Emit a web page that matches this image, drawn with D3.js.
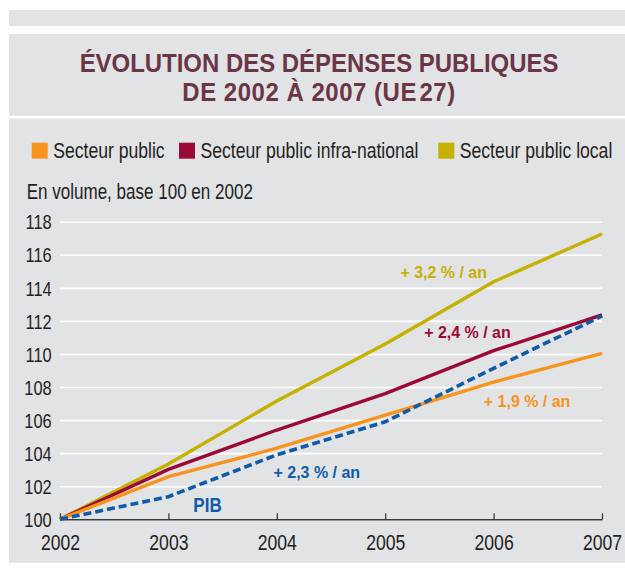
<!DOCTYPE html>
<html>
<head>
<meta charset="utf-8">
<script src="https://cdn.jsdelivr.net/npm/d3@7"></script>
<style>
    body { margin: 0; background: #fff; }
    #vis { width: 625px; height: 571px; }
    text { font-family: "Liberation Sans", Arial, sans-serif; }
</style>
</head>
<body>
<div id="vis"></div>
<script>
// data (base 100 in 2002)
var years = [2002, 2003, 2004, 2005, 2006, 2007];
var secteur_public = [100, 102.58, 104.3, 106.3, 108.3, 110.04];
var infra_national = [100, 103.02, 105.4, 107.6, 110.2, 112.36];
var public_local = [100, 103.35, 107.15, 110.6, 114.37, 117.26];
var pib = [100, 101.37, 103.9, 105.9, 109.13, 112.3];
var y_ticks = [100, 102, 104, 106, 108, 110, 112, 114, 116, 118];

var legend_labels = ['Secteur public', 'Secteur public infra-national', 'Secteur public local'];
var legend_colours = ['#f7941e', '#9b0a37', '#c4b100'];

// growth labels: text, colour, anchored at [year, value]
var notes = [
    { text: '+ 3,2 % / an', colour: '#c4b100', at: [2005.14, 114.58] },
    { text: '+ 2,4 % / an', colour: '#9b0a37', at: [2005.36, 110.95] },
    { text: '+ 1,9 % / an', colour: '#f7941e', at: [2005.91, 106.78] },
    { text: '+ 2,3 % / an', colour: '#0f5ba8', at: [2003.97, 102.48] }
];

var width = 625;
var height = 571;

var svg = d3.select('#vis')
    .append('svg')
    .attr('width', width)
    .attr('height', height);

// no condensed font installed, so squeeze the text sideways
function narrow_text(parent, x, y, s) {
    return parent.append('g')
        .attr('transform', 'translate(' + x + ',' + y + ') scale(' + s + ',1)')
        .append('text');
}

// grey panels
svg.append('rect').attr('x', 9).attr('y', 10).attr('width', 616).attr('height', 16).attr('fill', '#e2e3e5');
svg.append('rect').attr('x', 9).attr('y', 34).attr('width', 616).attr('height', 82).attr('fill', '#e2e3e5');
svg.append('rect').attr('x', 9).attr('y', 118.5).attr('width', 616).attr('height', 444.5).attr('fill', '#e2e3e5');

// title
narrow_text(svg, 319, 71.7, 0.9)
    .attr('text-anchor', 'middle')
    .attr('fill', '#6a3646')
    .style('font-weight', 'bold')
    .style('font-size', '26.6px')
    .text('ÉVOLUTION DES DÉPENSES PUBLIQUES');
narrow_text(svg, 319, 100.7, 0.9)
    .attr('text-anchor', 'middle')
    .attr('fill', '#6a3646')
    .style('font-weight', 'bold')
    .style('font-size', '26.6px')
    .style('letter-spacing', '0.6px')
    .text('DE 2002 À 2007 (UE\u200a27)');

// legend
var legend_x = [31.7, 179, 438.3];
legend_labels.forEach(function (d, i) {
    svg.append('rect')
        .attr('x', legend_x[i])
        .attr('y', 142.7)
        .attr('width', 16)
        .attr('height', 16)
        .attr('fill', legend_colours[i]);
    narrow_text(svg, legend_x[i] + 21.5, 158.3, 0.8)
        .attr('fill', '#231f20')
        .style('font-size', '22px')
        .text(d);
});

narrow_text(svg, 26.7, 199.3, 0.8)
    .attr('fill', '#231f20')
    .style('font-size', '21.3px')
    .text('En volume, base 100 en 2002');

// chart
var x_scale = d3.scaleLinear()
    .domain([2002, 2007])
    .range([60, 602]);

var y_scale = d3.scaleLinear()
    .domain([100, 118])
    .range([519.3, 221.7]);

var y_axis = d3.axisLeft(y_scale)
    .tickValues(y_ticks)
    .tickSize(-(602 - 60))
    .tickPadding(8.3)
    .tickFormat(d3.format('d'));

var x_axis = d3.axisBottom(x_scale)
    .tickValues(years)
    .tickSizeInner(-6)
    .tickSizeOuter(0)
    .tickPadding(15)
    .tickFormat(d3.format('d'));

var gy = svg.append('g')
    .attr('class', 'y axis')
    .attr('transform', 'translate(60,0)')
    .call(y_axis);
gy.select('.domain').remove();
gy.selectAll('line').attr('stroke', '#ffffff').attr('stroke-width', 1.6);
gy.selectAll('text')
    .attr('fill', '#231f20')
    .attr('dy', '0.35em')
    .attr('x', -8.3 / 0.8)
    .attr('transform', 'scale(0.8,1)')
    .style('font-size', '20.5px')
    .style('font-family', null);

var gx = svg.append('g')
    .attr('class', 'x axis')
    .attr('transform', 'translate(0,' + y_scale(100) + ')')
    .call(x_axis);
gx.select('.domain').attr('stroke', '#3a3a3a').attr('stroke-width', 1.5);
gx.selectAll('line').attr('stroke', '#3a3a3a').attr('stroke-width', 1.3);
gx.selectAll('text')
    .attr('fill', '#231f20')
    .attr('transform', 'scale(0.8,1)')
    .style('font-size', '22px')
    .style('font-family', null);

var line = d3.line()
    .x(function (d, i) { return x_scale(years[i]); })
    .y(function (d) { return y_scale(d); });

var series = [
    { values: public_local, colour: legend_colours[2] },
    { values: infra_national, colour: legend_colours[1] },
    { values: secteur_public, colour: legend_colours[0] }
];

svg.selectAll('.serie')
    .data(series)
    .enter()
    .append('path')
    .attr('class', 'serie')
    .attr('d', function (d) { return line(d.values); })
    .attr('fill', 'none')
    .attr('stroke', function (d) { return d.colour; })
    .attr('stroke-width', 3.4)
    .attr('stroke-linejoin', 'round');

svg.append('path')
    .attr('d', line(pib))
    .attr('fill', 'none')
    .attr('stroke', '#0f5ba8')
    .attr('stroke-width', 3.6)
    .attr('stroke-dasharray', '8,4');

notes.forEach(function (d) {
    narrow_text(svg, x_scale(d.at[0]), y_scale(d.at[1]), 0.94)
        .attr('fill', d.colour)
        .style('font-weight', 'bold')
        .style('font-size', '17px')
        .text(d.text);
});

narrow_text(svg, x_scale(2003.23), y_scale(100.46), 0.81)
    .attr('fill', '#0f5ba8')
    .style('font-weight', 'bold')
    .style('font-size', '21px')
    .text('PIB');
</script>
</body>
</html>
